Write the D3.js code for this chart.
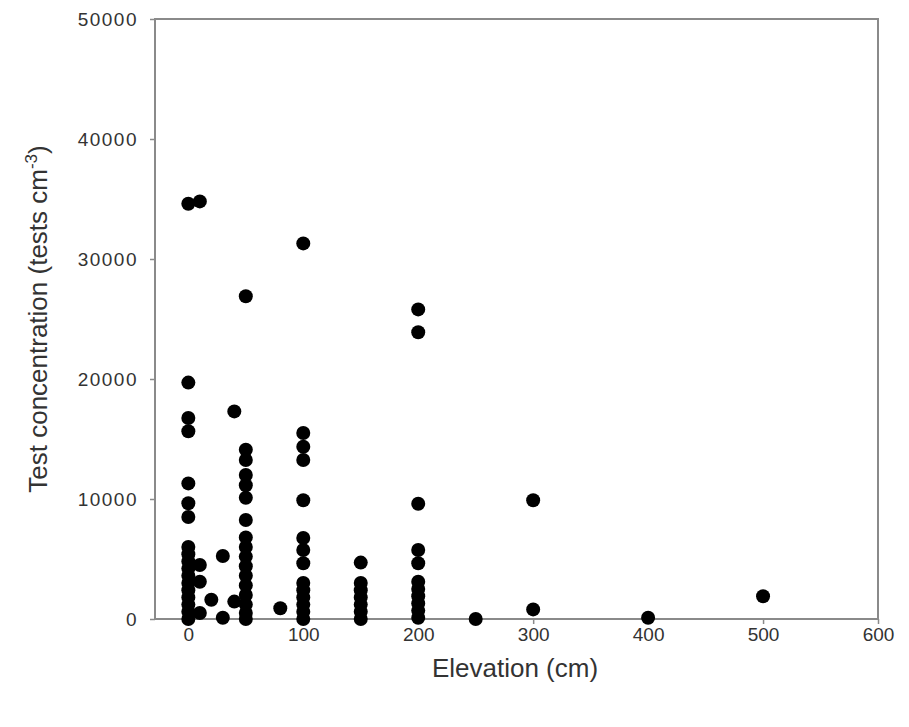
<!DOCTYPE html>
<html>
<head>
<meta charset="utf-8">
<script src="https://cdn.jsdelivr.net/npm/d3@7"></script>
<style>
  body { margin: 0; background: #fff; }
  svg { font-family: "Liberation Sans", Arial, sans-serif; }
</style>
</head>
<body>
<div class="chart"></div>
<script>
// elevation (cm) of each sample column and the test concentrations
var elevations = [0, 10, 20, 30, 40, 50, 80, 100, 150, 200, 250, 300, 400, 500];
var concentrations = [
  [34600, 19700, 16750, 15650, 11300, 9650, 8500, 6000, 5400, 4800, 4200, 3600, 3000, 2400, 1800, 1200, 600, 0],
  [34800, 4500, 3100, 500],
  [1600],
  [5250, 100],
  [17300, 1450],
  [26900, 14100, 13250, 12000, 11150, 10100, 8250, 6800, 6000, 5200, 4400, 3600, 2800, 2000, 1200, 500, 0],
  [900],
  [31300, 15500, 14350, 13250, 9900, 6750, 5750, 4650, 3000, 2400, 1800, 1200, 600, 0],
  [4700, 3000, 2400, 1800, 1200, 600, 0],
  [25800, 23900, 9600, 5750, 4650, 3100, 2500, 1900, 1300, 700, 100],
  [0],
  [9900, 800],
  [100],
  [1900]
];
var xTicks = [0, 100, 200, 300, 400, 500, 600];
var yTicks = [0, 10000, 20000, 30000, 40000, 50000];

var points = [];
elevations.forEach(function(e, i) {
  concentrations[i].forEach(function(c) { points.push({x: e, y: c}); });
});

var width = 909, height = 727,
  margin = {top: 19, right: 31, bottom: 108, left: 155};

var svg = d3.select(".chart").append("svg")
  .attr("width", width)
  .attr("height", height);

var xScale = d3.scaleLinear()
  .domain([-29, 600])
  .range([margin.left, width - margin.right]);

var yScale = d3.scaleLinear()
  .domain([0, 50000])
  .range([height - margin.bottom, margin.top]);

var axisColor = "#8a8a8a";

// frame
svg.append("rect")
  .attr("x", margin.left)
  .attr("y", margin.top)
  .attr("width", width - margin.left - margin.right)
  .attr("height", height - margin.top - margin.bottom)
  .attr("fill", "none")
  .attr("stroke", axisColor)
  .attr("stroke-width", 2);

var xAxis = svg.append("g")
  .attr("transform", "translate(0," + (height - margin.bottom) + ")")
  .call(d3.axisBottom(xScale).tickValues(xTicks).tickSize(5).tickPadding(4).tickFormat(d3.format("d")));

var yAxis = svg.append("g")
  .attr("transform", "translate(" + margin.left + ",0)")
  .call(d3.axisLeft(yScale).tickValues(yTicks).tickSize(5).tickPadding(12).tickFormat(d3.format("d")));

[xAxis, yAxis].forEach(function(a) {
  a.select(".domain").remove();
  a.selectAll(".tick line").attr("stroke", axisColor).attr("stroke-width", 1.5);
  a.selectAll(".tick text")
    .attr("fill", "#333")
    .attr("font-size", "19px")
    .attr("font-family", "Liberation Sans, Arial, sans-serif");
});
yAxis.selectAll(".tick text").attr("letter-spacing", "1.5px");

svg.append("g")
  .attr("class", "circles")
  .selectAll("circle")
  .data(points)
  .enter()
  .append("circle")
  .attr("cx", function(d) { return xScale(d.x); })
  .attr("cy", function(d) { return yScale(d.y); })
  .attr("r", 7)
  .attr("fill", "#000");

svg.append("text")
  .attr("x", 515)
  .attr("y", 677)
  .attr("text-anchor", "middle")
  .attr("font-size", "26px")
  .attr("fill", "#333")
  .text("Elevation (cm)");

var yTitle = svg.append("text")
  .attr("transform", "translate(47,319) rotate(-90)")
  .attr("text-anchor", "middle")
  .attr("font-size", "26px")
  .attr("fill", "#333");
yTitle.append("tspan").text("Test concentration (tests cm");
yTitle.append("tspan").attr("dy", -10).attr("font-size", "17px").text("-3");
yTitle.append("tspan").attr("dy", 10).text(")");
</script>
</body>
</html>
